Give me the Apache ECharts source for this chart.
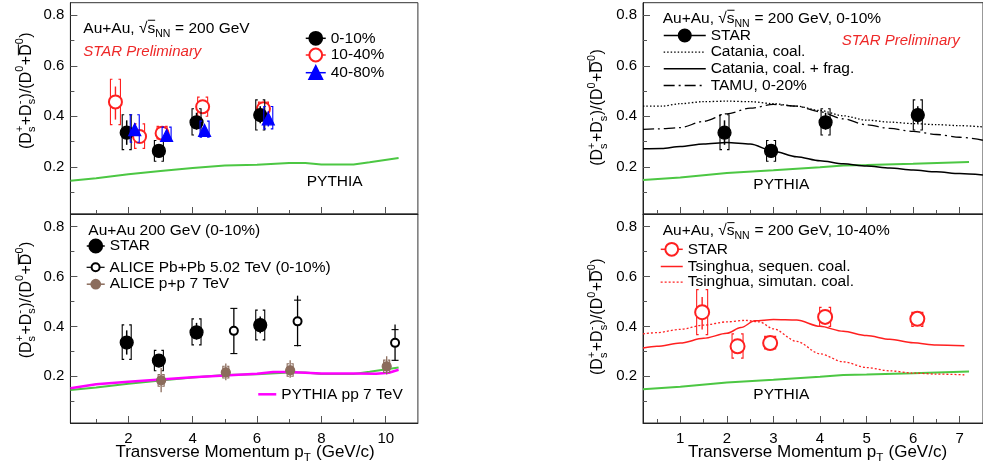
<!DOCTYPE html>
<html><head><meta charset="utf-8"><title>Ds/D0 ratio</title>
<script src="https://cdn.jsdelivr.net/npm/echarts@6.0.0/dist/echarts.min.js"></script>
<style>html,body{margin:0;padding:0;background:#fff;overflow:hidden}#chart{width:983px;height:471px}</style>
</head><body><div id="chart"></div>
<script>
// ---------------- data ----------------
const xTicksLeft = [2, 4, 6, 8, 10];
const xMinorLeft = [1, 3, 5, 7, 9];
const xTicksRight = [1, 2, 3, 4, 5, 6, 7];
const xMinorRight = [0.5, 1.5, 2.5, 3.5, 4.5, 5.5, 6.5];
const yTicks = [0.2, 0.4, 0.6, 0.8];
const yMinor = [0.1, 0.3, 0.5, 0.7];

const pythiaLeft = [[0.2,0.145],[1,0.155],[2,0.17],[3,0.183],[4,0.195],[5,0.205],[6,0.208],[7,0.215],[7.5,0.215],[8,0.209],[9,0.209],[9.5,0.218],[10.4,0.235]];
const pythiaPP7 = [[0.2,0.152],[1,0.168],[2,0.178],[3,0.187],[4,0.196],[5,0.203],[6,0.21],[6.5,0.217],[7,0.217],[8,0.211],[9,0.211],[9.7,0.21],[10.1,0.214],[10.4,0.226]];
const pythiaRight = [[0.2,0.148],[1,0.158],[2,0.175],[3,0.186],[4,0.198],[4.5,0.205],[5,0.207],[6,0.212],[7.2,0.219]];

// STAR 0-10%
const star010Pt = [1.95, 2.95, 4.12, 6.1];
const star010Val = [0.335, 0.263, 0.376, 0.405];
const star010StatLo = [0.287, 0.243, 0.347, 0.372];
const star010StatHi = [0.384, 0.283, 0.414, 0.44];
const star010SysLo = [0.268, 0.222, 0.326, 0.346];
const star010SysHi = [0.406, 0.304, 0.43, 0.465];

// STAR 10-40%
const star1040PtShifted = [1.6, 2.35, 3.05, 4.31, 6.2];
const star1040Pt = [1.47, 2.23, 2.93, 4.11, 6.09];
const star1040Val = [0.457, 0.32, 0.333, 0.438, 0.43];
const star1040StatLo = [0.387, 0.3, 0.318, 0.42, 0.41];
const star1040StatHi = [0.518, 0.34, 0.348, 0.456, 0.452];
const star1040SysLo = [0.367, 0.273, 0.31, 0.4, 0.4];
const star1040SysHi = [0.547, 0.37, 0.36, 0.476, 0.456];

// STAR 40-80%
const star4080Pt = [2.2, 3.19, 4.37, 6.35];
const star4080Val = [0.347, 0.324, 0.344, 0.39];
const star4080StatLo = [0.322, 0.31, 0.33, 0.36];
const star4080StatHi = [0.372, 0.338, 0.358, 0.42];
const star4080SysLo = [0.297, 0.304, 0.317, 0.35];
const star4080SysHi = [0.406, 0.357, 0.381, 0.439];

// ALICE Pb+Pb 5.02 TeV 0-10%
const alicePbPt = [5.28, 7.26, 10.29];
const alicePbVal = [0.382, 0.42, 0.334];
const alicePbStatLo = [0.291, 0.32, 0.262];
const alicePbStatHi = [0.474, 0.523, 0.407];
const alicePbSysLo = [0.291, 0.323, 0.264];
const alicePbSysHi = [0.472, 0.505, 0.387];

// ALICE p+p 7 TeV
const alicePPPt = [3.02, 5.03, 7.03, 10.03];
const alicePPVal = [0.184, 0.216, 0.224, 0.24];
const alicePPStatLo = [0.136, 0.184, 0.194, 0.207];
const alicePPStatHi = [0.233, 0.251, 0.264, 0.28];
const alicePPSysLo = [0.16, 0.193, 0.2, 0.215];
const alicePPSysHi = [0.207, 0.24, 0.25, 0.265];

// models
const cataniaCoal = [[0.2,0.44],[0.6,0.44],[1,0.45],[1.5,0.458],[2,0.46],[2.5,0.458],[3,0.45],[3.5,0.44],[4,0.423],[4.5,0.402],[5,0.385],[5.5,0.377],[6,0.371],[6.5,0.367],[7,0.363],[7.5,0.358]];
const cataniaCoalFrag = [[0.2,0.271],[0.6,0.272],[1,0.28],[1.5,0.29],[2,0.296],[2.5,0.29],[3,0.262],[3.5,0.24],[4,0.224],[4.5,0.212],[5,0.203],[5.5,0.195],[6,0.187],[6.5,0.18],[7,0.173],[7.5,0.167]];
const tamu = [[0.2,0.348],[0.5,0.35],[1,0.355],[1.5,0.38],[2,0.41],[2.5,0.432],[3,0.447],[3.5,0.44],[4,0.418],[4.5,0.39],[5,0.366],[5.5,0.352],[6,0.34],[6.5,0.328],[7,0.317],[7.5,0.305]];
const tsinghuaSeq = [[0.2,0.313],[0.5,0.32],[1,0.333],[1.5,0.352],[2,0.372],[2.3,0.395],[2.6,0.422],[3,0.427],[3.5,0.425],[4,0.4],[4.5,0.38],[5,0.363],[5.5,0.348],[6,0.334],[6.5,0.325],[7.1,0.322]];
const tsinghuaSim = [[0.2,0.37],[0.5,0.375],[1,0.388],[1.5,0.405],[2,0.418],[2.4,0.424],[2.7,0.418],[3,0.39],[3.5,0.34],[4,0.29],[4.5,0.258],[5,0.235],[5.5,0.222],[6,0.213],[6.5,0.209],[7.1,0.206]];

// ---------------- helpers ----------------
const FONT = '"Liberation Sans", Arial, Helvetica, sans-serif';
const mctx = document.createElement('canvas').getContext('2d');
function tw(s, size, italic) { mctx.font = (italic ? 'italic ' : '') + size + 'px ' + FONT; return mctx.measureText(s).width; }

function buildMath(parts, size, color, italic) {
  const small = Math.round(size * 0.68 * 10) / 10;
  const ch = []; let x = 0;
  const fontStr = sz => (italic ? 'italic ' : '') + sz + 'px ' + FONT;
  const mk = (s, px, py, sz) => ({ type: 'text', x: px, y: py, silent: true,
    style: { text: s, font: fontStr(sz), fill: color, align: 'left', verticalAlign: 'middle', textAlign: 'left', textVerticalAlign: 'middle' } });
  parts.forEach(p => {
    if (typeof p === 'string') { ch.push(mk(p, x, 0, size)); x += tw(p, size, italic); return; }
    if (p.over != null) {
      const w = tw(p.over, size, italic);
      ch.push(mk(p.over, x, 0, size));
      ch.push({ type: 'line', silent: true, shape: { x1: x + 0.5, y1: -size * 0.52, x2: x + w, y2: -size * 0.52 }, style: { stroke: color, lineWidth: 1 } });
      x += w; return;
    }
    let w = 0;
    if (p.sup != null) { ch.push(mk(p.sup, x, -size * 0.4, small)); w = Math.max(w, tw(p.sup, small, italic)); }
    if (p.sub != null) { ch.push(mk(p.sub, x, size * 0.36, small)); w = Math.max(w, tw(p.sub, small, italic)); }
    x += w + 0.5;
  });
  return { children: ch, width: x };
}
function mathGroup(parts, size, color, x, y, anchor, rotation, italic) {
  const m = buildMath(parts, size, color, italic);
  const dx = anchor === 'center' ? -m.width / 2 : 0;
  m.children.forEach(c => { if (c.type === 'text') c.x += dx; else { c.shape.x1 += dx; c.shape.x2 += dx; } });
  return { type: 'group', x, y, rotation: rotation || 0, silent: true, children: m.children };
}

const AX = '#222', TK = '#555';
function xAxes(g, min, max, major, minor, labels) {
  return [
    { type: 'value', gridIndex: g, min, max, position: 'bottom',
      axisLine: { show: true, onZero: false, lineStyle: { color: AX, width: 1 } },
      splitLine: { show: false },
      axisTick: { show: true, inside: true, length: 7, customValues: major, lineStyle: { color: TK } },
      axisLabel: { show: labels, customValues: major, fontSize: 15, color: '#000', fontFamily: FONT, margin: 8 } },
    { type: 'value', gridIndex: g, min, max, position: 'bottom',
      axisLine: { show: false }, splitLine: { show: false }, axisLabel: { show: false },
      axisTick: { show: true, inside: true, length: 4, customValues: minor, lineStyle: { color: TK } } }
  ];
}
function yAxes(g) {
  return [
    { type: 'value', gridIndex: g, min: 0.013, max: 0.85, position: 'left',
      axisLine: { show: true, onZero: false, lineStyle: { color: AX, width: 1 } },
      splitLine: { show: false },
      axisTick: { show: true, inside: true, length: 7, customValues: yTicks, lineStyle: { color: TK } },
      axisLabel: { show: true, customValues: yTicks, fontSize: 15, color: '#000', fontFamily: FONT, margin: 6, formatter: v => v.toFixed(1) } },
    { type: 'value', gridIndex: g, min: 0.013, max: 0.85, position: 'left',
      axisLine: { show: false }, splitLine: { show: false }, axisLabel: { show: false },
      axisTick: { show: true, inside: true, length: 4, customValues: yMinor, lineStyle: { color: TK } } }
  ];
}

// mode 'bracket': ROOT-style [ ] systematic brackets; mode 'cap': horizontal caps at the sys ends
function errSeries(name, g, xs, lo, hi, slo, shi, color, half, lw, z, mode) {
  const rows = xs.map((x, i) => [x, lo[i], hi[i], slo[i], shi[i]]);
  return { type: 'custom', name, xAxisIndex: 2 * g, yAxisIndex: 2 * g, data: rows, silent: true, z: z || 3, clip: false,
    renderItem: (params, api) => {
      const x = api.value(0);
      const a = api.coord([x, api.value(1)]), b = api.coord([x, api.value(2)]);
      const c = api.coord([x, api.value(3)]), d = api.coord([x, api.value(4)]);
      const cx = c[0];
      const st = { stroke: color, lineWidth: 1.1, fill: null };
      const kids = [{ type: 'line', shape: { x1: a[0], y1: a[1], x2: b[0], y2: b[1] }, style: { stroke: color, lineWidth: lw } }];
      if (mode === 'cap') {
        kids.push({ type: 'line', shape: { x1: cx - half, y1: d[1], x2: cx + half, y2: d[1] }, style: st });
        kids.push({ type: 'line', shape: { x1: cx - half, y1: c[1], x2: cx + half, y2: c[1] }, style: st });
      } else {
        const arm = 2;
        kids.push({ type: 'polyline', shape: { points: [[cx - half + arm, d[1]], [cx - half, d[1]], [cx - half, c[1]], [cx - half + arm, c[1]]] }, style: st });
        kids.push({ type: 'polyline', shape: { points: [[cx + half - arm, d[1]], [cx + half, d[1]], [cx + half, c[1]], [cx + half - arm, c[1]]] }, style: st });
      }
      return { type: 'group', children: kids };
    } };
}
function markSeries(name, g, xs, ys, symbol, size, color, z, bw) {
  return { type: 'line', name, xAxisIndex: 2 * g, yAxisIndex: 2 * g, data: xs.map((x, i) => [x, ys[i]]),
    symbol, symbolSize: size, showSymbol: true, z: z || 5, clip: false, silent: true, animation: false,
    itemStyle: { color, borderColor: color, borderWidth: bw || 1.2 },
    lineStyle: { color, width: 1.5, opacity: 0 }, emphasis: { disabled: true } };
}
function curve(name, g, data, color, width, type, smooth) {
  return { type: 'line', name, xAxisIndex: 2 * g, yAxisIndex: 2 * g, data, symbol: 'none', showSymbol: false,
    smooth: smooth ? 0.3 : false, smoothMonotone: 'x', silent: true, clip: true, z: 2,
    lineStyle: { color, width, type }, itemStyle: { color }, emphasis: { disabled: true } };
}
function leg(name, left, cy, iw, ih, fs, isMarker, lw) {
  const item = { name };
  if (isMarker) { item.itemStyle = { opacity: 1 }; item.lineStyle = { opacity: 1, width: lw || 1.5 }; }
  else { item.itemStyle = { opacity: 0 }; item.lineStyle = { width: lw || 1.5 }; }
  return { show: true, orient: 'horizontal', left, top: cy - ih / 2, itemWidth: iw, itemHeight: ih, padding: 0, itemGap: 0,
    selectedMode: false, data: [item], formatter: n => n.split('#')[0],
    textStyle: { fontSize: fs, color: '#000', fontFamily: FONT } };
}

const BLACK = '#000', RED = '#ff2020', BLUE = '#0000ff', GREEN = '#4cc743', MAG = '#ff00ff', BROWN = '#8b6c5c', PRED = '#ee2828';

const grids = [
  { left: 70.4, top: 2.7, width: 347.5, height: 211.3 },
  { left: 70.4, top: 214, width: 347.5, height: 209 },
  { left: 643, top: 2.7, width: 346.75, height: 211.3 },
  { left: 643, top: 214, width: 346.75, height: 209 }
].map(g => Object.assign(g, { show: true, borderColor: '#333', borderWidth: 1, backgroundColor: 'transparent', containLabel: false }));

const xAxis = [].concat(
  xAxes(0, 0.2, 11, xTicksLeft, xMinorLeft, false),
  xAxes(1, 0.2, 11, xTicksLeft, xMinorLeft, true),
  xAxes(2, 0.2, 7.5, xTicksRight, xMinorRight, false),
  xAxes(3, 0.2, 7.5, xTicksRight, xMinorRight, true)
);
const yAxis = [].concat(yAxes(0), yAxes(1), yAxes(2), yAxes(3));

const series = [
  // top-left
  curve('PYTHIA#tl', 0, pythiaLeft, GREEN, 2, 'solid', false),
  errSeries('e1040tl', 0, star1040PtShifted, star1040StatLo, star1040StatHi, star1040SysLo, star1040SysHi, RED, 5, 1.4, 3),
  markSeries('10-40%', 0, star1040PtShifted, star1040Val, 'emptyCircle', 13, RED, 4, 1.1),
  errSeries('e010tl', 0, star010Pt, star010StatLo, star010StatHi, star010SysLo, star010SysHi, BLACK, 4.5, 1.5, 5),
  markSeries('0-10%', 0, star010Pt, star010Val, 'circle', 13, BLACK, 6),
  errSeries('e4080tl', 0, star4080Pt, star4080StatLo, star4080StatHi, star4080SysLo, star4080SysHi, BLUE, 4.5, 1.4, 7),
  markSeries('40-80%', 0, star4080Pt, star4080Val, 'triangle', 12, BLUE, 8),
  // bottom-left
  curve('PYTHIA#bl', 1, pythiaLeft, GREEN, 2, 'solid', false),
  curve('PYTHIA pp 7 TeV', 1, pythiaPP7, MAG, 2.5, 'solid', false),
  errSeries('e010bl', 1, star010Pt, star010StatLo, star010StatHi, star010SysLo, star010SysHi, BLACK, 4.5, 1.5, 5),
  markSeries('STAR#bl', 1, star010Pt, star010Val, 'circle', 13, BLACK, 6),
  errSeries('ePb', 1, alicePbPt, alicePbStatLo, alicePbStatHi, alicePbSysLo, alicePbSysHi, BLACK, 3.5, 1.3, 5, 'cap'),
  markSeries('ALICE Pb+Pb 5.02 TeV (0-10%)', 1, alicePbPt, alicePbVal, 'emptyCircle', 8, BLACK, 6, 1),
  errSeries('ePP', 1, alicePPPt, alicePPStatLo, alicePPStatHi, alicePPSysLo, alicePPSysHi, BROWN, 3, 1.3, 5),
  markSeries('ALICE p+p 7 TeV', 1, alicePPPt, alicePPVal, 'circle', 9, BROWN, 6),
  // top-right
  curve('PYTHIA#tr', 2, pythiaRight, GREEN, 2, 'solid', false),
  curve('Catania, coal.', 2, cataniaCoal, BLACK, 1.3, [1.5, 2], true),
  curve('Catania, coal. + frag.', 2, cataniaCoalFrag, BLACK, 1.5, 'solid', true),
  curve('TAMU, 0-20%', 2, tamu, BLACK, 1.3, [11, 4, 2, 4], true),
  errSeries('e010tr', 2, star010Pt, star010StatLo, star010StatHi, star010SysLo, star010SysHi, BLACK, 4.5, 1.5, 5),
  markSeries('STAR#tr', 2, star010Pt, star010Val, 'circle', 13, BLACK, 6),
  // bottom-right
  curve('PYTHIA#br', 3, pythiaRight, GREEN, 2, 'solid', false),
  curve('Tsinghua, sequen. coal.', 3, tsinghuaSeq, RED, 1.5, 'solid', true),
  curve('Tsinghua, simutan. coal.', 3, tsinghuaSim, RED, 1.3, [2, 2], true),
  errSeries('e1040br', 3, star1040Pt, star1040StatLo, star1040StatHi, star1040SysLo, star1040SysHi, RED, 5.5, 1.4, 5),
  markSeries('STAR#br', 3, star1040Pt, star1040Val, 'emptyCircle', 14, RED, 6, 1.1)
];

const legend = [
  leg('0-10%', 305, 38.3, 20, 16, 15.5, true),
  leg('10-40%', 305, 55, 20, 16, 15.5, true),
  leg('40-80%', 305, 72.7, 20, 16, 15.5, true),
  leg('STAR#bl', 86, 246, 18, 16, 15.5, true),
  leg('ALICE Pb+Pb 5.02 TeV (0-10%)', 86, 264.3, 18, 10, 15.5, true, 1.2),
  leg('ALICE p+p 7 TeV', 86, 281.7, 18, 11, 15.5, true, 1.5),
  leg('PYTHIA pp 7 TeV', 257, 393.3, 18, 14, 15.5, false, 2.5),
  leg('STAR#tr', 663, 35, 42, 15, 15.5, true),
  leg('Catania, coal.', 663, 51.7, 42, 15, 15.5, false, 1.3),
  leg('Catania, coal. + frag.', 663, 68.3, 42, 15, 15.5, false, 1.5),
  leg('TAMU, 0-20%', 663, 85, 42, 15, 15.5, false, 1.3),
  leg('STAR#br', 660, 249.3, 22, 16, 15.5, true),
  leg('Tsinghua, sequen. coal.', 660, 266, 22, 15, 15.5, false, 1.5),
  leg('Tsinghua, simutan. coal.', 660, 281.7, 22, 15, 15.5, false, 1.3)
];

// ---------------- texts ----------------
const yTitle = ['(D', { sup: '+', sub: 's' }, '+D', { sup: '-', sub: 's' }, ')/(D', { sup: '0' }, '+', { over: 'D' }, { sup: '0' }, ')'];
const xTitle = ['Transverse Momentum p', { sub: 'T' }, ' (GeV/c)'];
const hdrTL = ['Au+Au, ', '\u221A', { over: 's' }, { sub: 'NN' }, ' = 200 GeV'];
const hdrBL = ['Au+Au 200 GeV (0-10%)'];
const hdrTR = ['Au+Au, ', '\u221A', { over: 's' }, { sub: 'NN' }, ' = 200 GeV, 0-10%'];
const hdrBR = ['Au+Au, ', '\u221A', { over: 's' }, { sub: 'NN' }, ' = 200 GeV, 10-40%'];

const graphic = [
  mathGroup(yTitle, 16, '#000', 26.7, 90.7, 'center', Math.PI / 2),
  mathGroup(yTitle, 16, '#000', 26.7, 300, 'center', Math.PI / 2),
  mathGroup(yTitle, 16, '#000', 598, 107.5, 'center', Math.PI / 2),
  mathGroup(yTitle, 16, '#000', 598, 316.7, 'center', Math.PI / 2),
  mathGroup(xTitle, 17, '#000', 245, 452, 'center'),
  mathGroup(xTitle, 17, '#000', 817.5, 452, 'center'),
  mathGroup(hdrTL, 15.5, '#000', 83.3, 28.3, 'left'),
  mathGroup(hdrBL, 15.5, '#000', 88.3, 230.7, 'left'),
  mathGroup(hdrTR, 15.5, '#000', 662.7, 18.3, 'left'),
  mathGroup(hdrBR, 15.5, '#000', 662.7, 230.7, 'left'),
  mathGroup(['STAR Preliminary'], 15, PRED, 83.3, 51.7, 'left', 0, true),
  mathGroup(['STAR Preliminary'], 15, PRED, 841.7, 41, 'left', 0, true),
  mathGroup(['PYTHIA'], 15.5, '#000', 306.7, 181.7, 'left'),
  mathGroup(['PYTHIA'], 15.5, '#000', 753.3, 185, 'left'),
  mathGroup(['PYTHIA'], 15.5, '#000', 753.3, 395, 'left')
];

const chart = echarts.init(document.getElementById('chart'), null, { renderer: 'canvas' });
chart.setOption({
  animation: false,
  backgroundColor: '#fff',
  textStyle: { fontFamily: FONT },
  grid: grids, xAxis, yAxis, series, legend, graphic
});
</script></body></html>
